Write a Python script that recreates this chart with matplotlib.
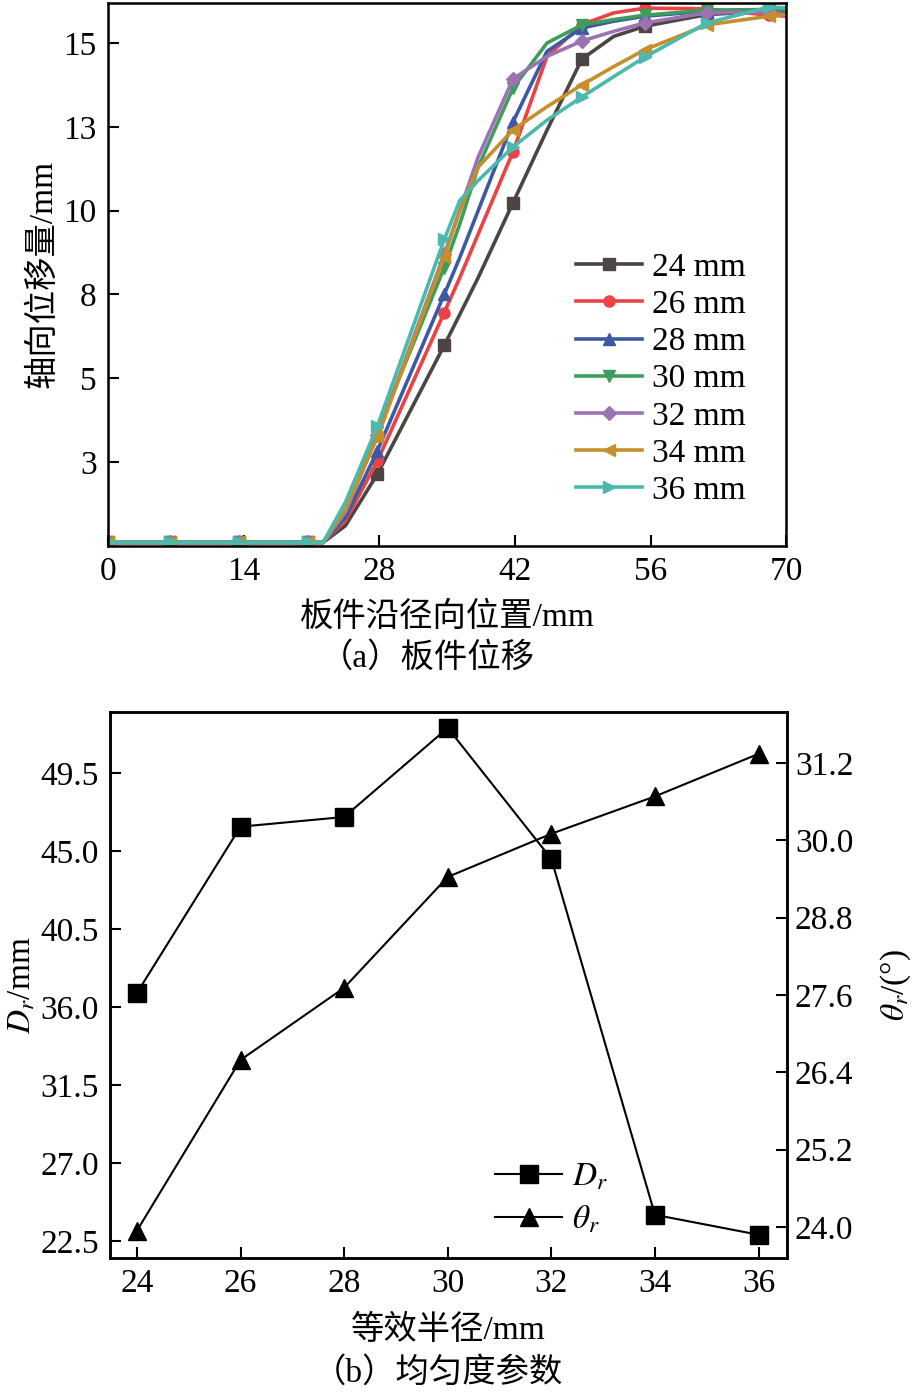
import matplotlib
matplotlib.use("Agg")
import matplotlib.pyplot as plt

plt.rcParams['font.family'] = ['Liberation Serif', 'Noto Sans CJK SC', 'DejaVu Sans']
plt.rcParams['mathtext.fontset'] = 'stix'
plt.rcParams['font.size'] = 24

# (a) axial displacement along the radial position
x_pos = [0, 6.4, 13.5, 20.6, 22.2, 24.5, 27.8, 34.7, 36.3, 38.2, 41.8, 45.3,
         48.9, 52.2, 55.4, 61.8, 68.2, 70]
mark_idx = [0, 1, 2, 3, 6, 7, 10, 12, 14, 15, 16]

disp_24 = [0.1, 0.1, 0.1, 0.1, 0.1, 0.6, 2.14, 5.98, 6.9, 8.0, 10.24, 12.4,
           14.52, 15.2, 15.5, 15.85, 15.95, 15.95]
disp_26 = [0.1, 0.1, 0.1, 0.1, 0.1, 0.75, 2.53, 6.96, 8.0, 9.3, 11.76, 14.6,
           15.55, 15.9, 16.04, 16.02, 15.83, 15.8]
disp_28 = [0.1, 0.1, 0.1, 0.1, 0.1, 0.85, 2.83, 7.5, 8.6, 10.0, 12.65, 14.75,
           15.45, 15.65, 15.8, 15.95, 16.0, 15.98]
disp_30 = [0.1, 0.1, 0.1, 0.1, 0.1, 1.0, 3.4, 8.3, 9.6, 11.3, 13.66, 15.0,
           15.54, 15.7, 15.83, 15.98, 16.0, 16.0]
disp_32 = [0.1, 0.1, 0.1, 0.1, 0.1, 1.0, 3.3, 8.7, 10.0, 11.6, 13.93, 14.6,
           15.06, 15.35, 15.6, 15.9, 15.92, 15.85]
disp_34 = [0.1, 0.1, 0.1, 0.1, 0.1, 1.1, 3.24, 8.63, 10.0, 11.3, 12.41, 13.1,
           13.75, 14.3, 14.8, 15.54, 15.8, 15.85]
disp_36 = [0.1, 0.1, 0.1, 0.1, 0.1, 1.3, 3.57, 9.14, 10.3, 10.9, 11.9, 12.7,
           13.39, 14.0, 14.58, 15.6, 16.07, 16.05]

series_a = [disp_24, disp_26, disp_28, disp_30, disp_32, disp_34, disp_36]
labels_a = ['24 mm', '26 mm', '28 mm', '30 mm', '32 mm', '34 mm', '36 mm']
colors_a = ['#4d4543', '#ea4345', '#3d59a6', '#3f9d5c', '#9b72b4', '#c58f2c', '#4bb9ab']
markers_a = ['s', 'o', '^', 'v', 'D', '<', '>']

# (b) uniformity parameters
radius = [24, 26, 28, 30, 32, 34, 36]
D_r = [36.8, 46.4, 46.96, 52.1, 44.54, 24.0, 22.85]
theta_r = [23.94, 26.59, 27.71, 29.43, 30.1, 30.68, 31.34]

fig = plt.figure(figsize=(9.18, 13.96), dpi=100)

ax1 = fig.add_axes([0.1176, 0.609, 0.739, 0.389])
for y, lab, c, m in zip(series_a, labels_a, colors_a, markers_a):
    ms = 7 if m == 'D' else 8
    ax1.plot(x_pos, y, color=c, lw=2.6, marker=m, markersize=ms,
             markevery=mark_idx, label=lab)
ax1.set_xlim(0, 70)
ax1.set_ylim(0, 16.2)
ax1.set_xticks([0, 14, 28, 42, 56, 70])
ax1.set_yticks([2.5, 5, 7.5, 10, 12.5, 15])
ax1.set_yticklabels(['3', '5', '8', '10', '13', '15'])
ax1.tick_params(direction='in', length=8, width=1.5, pad=8)
for s in ax1.spines.values():
    s.set_linewidth(1.8)
ax1.set_xlabel('板件沿径向位置/mm', labelpad=10)
ax1.set_ylabel('轴向位移量/mm', labelpad=4)
ax1.legend(loc='upper left', bbox_to_anchor=(0.67, 0.565), frameon=False,
           handlelength=2.0, handletextpad=0.3, labelspacing=0.2,
           borderaxespad=0, fontsize=24)
fig.text(0.465, 0.529, '（a）板件位移', ha='center', va='center', fontsize=24)

ax2 = fig.add_axes([0.1198, 0.099, 0.737, 0.391])
l1, = ax2.plot(radius, D_r, color='black', lw=1.5, marker='s', markersize=13,
               label='$D_r$')
ax2.set_xlim(23.48, 36.54)
ax2.set_ylim(21.52, 53.02)
ax2.set_xticks(radius)
ax2.set_yticks([22.5, 27.0, 31.5, 36.0, 40.5, 45.0, 49.5])
ax2.set_yticklabels(['22.5', '27.0', '31.5', '36.0', '40.5', '45.0', '49.5'])
ax2.tick_params(direction='in', length=8, width=1.5, pad=8)
ax2.set_xlabel('等效半径/mm', labelpad=11)
ax2.set_ylabel('$D_r$/mm', labelpad=2)

ax3 = ax2.twinx()
l2, = ax3.plot(radius, theta_r, color='black', lw=1.5, marker='^', markersize=13,
               label=r'$\theta_r$')
ax3.set_ylim(23.52, 31.99)
ax3.set_yticks([24.0, 25.2, 26.4, 27.6, 28.8, 30.0, 31.2])
ax3.set_yticklabels(['24.0', '25.2', '26.4', '27.6', '28.8', '30.0', '31.2'])
ax3.tick_params(direction='in', length=8, width=1.5, pad=6)
ax3.set_ylabel(r'$\theta_r$/(°)', labelpad=18)
for a in (ax2, ax3):
    for s in a.spines.values():
        s.set_linewidth(1.8)

ax2.legend([l1, l2], ['$D_r$', r'$\theta_r$'], loc='upper left',
           bbox_to_anchor=(0.55, 0.2), frameon=False, handlelength=2.0,
           handletextpad=0.3, labelspacing=0.35, borderaxespad=0, fontsize=24)
fig.text(0.477, 0.0165, '（b）均匀度参数', ha='center', va='center', fontsize=24)

fig.savefig('out.png', dpi=100)
